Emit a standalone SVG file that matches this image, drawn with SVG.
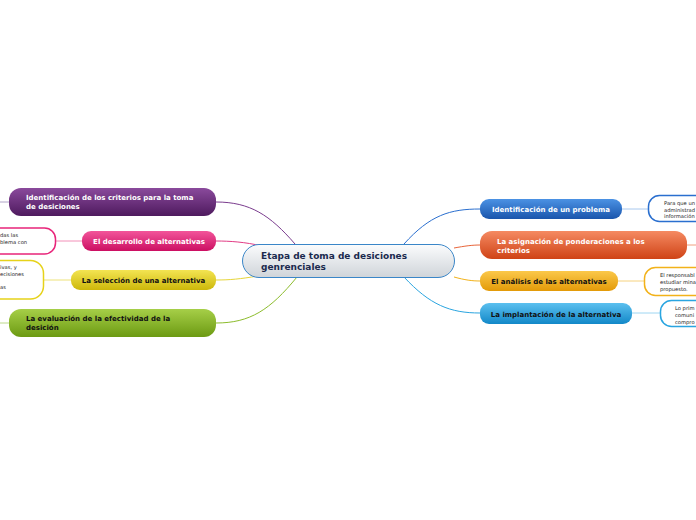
<svg xmlns="http://www.w3.org/2000/svg" width="696" height="520" viewBox="0 0 696 520">
<defs>
<linearGradient id="gC" x1="0" y1="0" x2="0" y2="1"><stop offset="0" stop-color="#fbfcfd"/><stop offset="1" stop-color="#cfd4d9"/></linearGradient>
<linearGradient id="gPu" x1="0" y1="0" x2="0" y2="1"><stop offset="0" stop-color="#8a4a9c"/><stop offset="1" stop-color="#4e1a5e"/></linearGradient>
<linearGradient id="gPk" x1="0" y1="0" x2="0" y2="1"><stop offset="0" stop-color="#f2559a"/><stop offset="1" stop-color="#cc0f62"/></linearGradient>
<linearGradient id="gYe" x1="0" y1="0" x2="0" y2="1"><stop offset="0" stop-color="#f3e452"/><stop offset="1" stop-color="#cdb80a"/></linearGradient>
<linearGradient id="gGr" x1="0" y1="0" x2="0" y2="1"><stop offset="0" stop-color="#a6cf48"/><stop offset="1" stop-color="#6c9a12"/></linearGradient>
<linearGradient id="gBl" x1="0" y1="0" x2="0" y2="1"><stop offset="0" stop-color="#4b92e4"/><stop offset="1" stop-color="#1a55ac"/></linearGradient>
<linearGradient id="gOr" x1="0" y1="0" x2="0" y2="1"><stop offset="0" stop-color="#f58a62"/><stop offset="1" stop-color="#cf4316"/></linearGradient>
<linearGradient id="gAm" x1="0" y1="0" x2="0" y2="1"><stop offset="0" stop-color="#fbc84a"/><stop offset="1" stop-color="#e39a08"/></linearGradient>
<linearGradient id="gLb" x1="0" y1="0" x2="0" y2="1"><stop offset="0" stop-color="#5cc0ef"/><stop offset="1" stop-color="#1288c8"/></linearGradient>
</defs>
<style>
text{font-family:"DejaVu Sans","Verdana",sans-serif;}
.m{font-size:7px;font-weight:bold;}
.w{fill:#ffffff;}
.k{fill:#111111;}
.c{font-size:9px;font-weight:bold;fill:#1b2a4e;}
.s{font-size:5.2px;fill:#222222;}
.ln{fill:none;stroke-width:1;}
.tn{fill:#ffffff;stroke-width:1.5;}
</style>
<rect width="696" height="520" fill="#ffffff"/>
<g id="connectors">
<path class="ln" stroke="#7a3c8e" d="M295,244 C270,215 250,202 216,202"/>
<path class="ln" stroke="#e23c85" d="M262,246 C245,242 230,241 216,241"/>
<path class="ln" stroke="#e6d53a" d="M258,276 C240,279 230,280 216,280"/>
<path class="ln" stroke="#8cbc2c" d="M297,277 C270,310 250,323 216,323"/>
<path class="ln" stroke="#2a6fcf" d="M404,244 C430,215 450,209 480,209"/>
<path class="ln" stroke="#e8653a" d="M454,248 C465,246 472,245 480,245"/>
<path class="ln" stroke="#f2b21a" d="M454,277 C465,280 472,281 480,281"/>
<path class="ln" stroke="#2aa5e0" d="M404,277 C430,305 450,313 480,313"/>
<path class="ln" stroke="#b0a4c8" d="M0,202 L9,202"/>
<path class="ln" stroke="#f290b8" d="M56,241 L82,241"/>
<path class="ln" stroke="#ede27a" d="M44,280 L71,280"/>
<path class="ln" stroke="#bcd98a" d="M0,323 L9,323"/>
<path class="ln" stroke="#a8c8ee" d="M622,209 L648,209"/>
<path class="ln" stroke="#f0a080" d="M687,245 L696,245"/>
<path class="ln" stroke="#f6d27e" d="M618,281 L644,281"/>
<path class="ln" stroke="#9ed6f2" d="M632,313 L660,313"/>
</g>
<g id="central">
<rect x="242.5" y="244.5" width="212" height="33" rx="16.5" fill="url(#gC)" stroke="#3a86c8" stroke-width="1"/>
<text class="c" x="261" y="259">Etapa de toma de desiciones</text>
<text class="c" x="261" y="270">genrenciales</text>
</g>
<g id="n-criterios">
<rect x="9" y="188" width="207" height="28" rx="12" fill="url(#gPu)"/>
<text class="m w" x="26" y="200">Identificación de los criterios para la toma</text>
<text class="m w" x="26" y="209">de desiciones</text>
</g>
<g id="n-desarrollo">
<rect x="82" y="231" width="134" height="20" rx="9" fill="url(#gPk)"/>
<text class="m w" x="149" y="244" text-anchor="middle">El desarrollo de alternativas</text>
</g>
<g id="n-seleccion">
<rect x="71" y="270" width="145" height="20" rx="9" fill="url(#gYe)"/>
<text class="m k" x="143.5" y="283" text-anchor="middle">La selección de una alternativa</text>
</g>
<g id="n-evaluacion">
<rect x="9" y="309" width="207" height="28" rx="12" fill="url(#gGr)"/>
<text class="m k" x="26" y="321">La evaluación de la efectividad de la</text>
<text class="m k" x="26" y="330">desición</text>
</g>
<g id="t-desarrollo">
<rect class="tn" x="-20" y="228" width="75.5" height="26" rx="11" stroke="#e8257a"/>
<text class="s" x="0" y="237">das las</text>
<text class="s" x="0" y="244">blema con</text>
</g>
<g id="t-seleccion">
<rect class="tn" x="-20" y="260.5" width="63.5" height="38.5" rx="13" stroke="#e6d21a"/>
<text class="s" x="0" y="269">ivas, y</text>
<text class="s" x="0" y="276">ecisiones</text>
<text class="s" x="0" y="289">as</text>
</g>
<g id="n-problema">
<rect x="480" y="199" width="142" height="20" rx="9" fill="url(#gBl)"/>
<text class="m w" x="551" y="212" text-anchor="middle">Identificación de un problema</text>
</g>
<g id="n-ponderaciones">
<rect x="480" y="231" width="207" height="28" rx="12" fill="url(#gOr)"/>
<text class="m w" x="497" y="244">La asignación de ponderaciones a los</text>
<text class="m w" x="497" y="253">criterios</text>
</g>
<g id="n-analisis">
<rect x="480" y="271" width="138" height="20" rx="9" fill="url(#gAm)"/>
<text class="m k" x="549" y="284" text-anchor="middle">El análisis de las alternativas</text>
</g>
<g id="n-implantacion">
<rect x="480" y="303" width="152" height="21" rx="9" fill="url(#gLb)"/>
<text class="m k" x="556" y="317" text-anchor="middle">La implantación de la alternativa</text>
</g>
<g id="t-problema">
<rect class="tn" x="648.5" y="195.5" width="70" height="26" rx="11" stroke="#2a6fcf"/>
<text class="s" x="664" y="205">Para que un</text>
<text class="s" x="664" y="211.5">administrad</text>
<text class="s" x="664" y="218">información</text>
</g>
<g id="t-analisis">
<rect class="tn" x="644.5" y="267.5" width="70" height="28" rx="11" stroke="#f2b21a"/>
<text class="s" x="660" y="277">El responsabl</text>
<text class="s" x="660" y="284">estudiar mina</text>
<text class="s" x="660" y="291">propuesto.</text>
</g>
<g id="t-implantacion">
<rect class="tn" x="660.5" y="300.5" width="60" height="26" rx="11" stroke="#2aa5e0"/>
<text class="s" x="675" y="310">Lo prim</text>
<text class="s" x="675" y="317">comuni</text>
<text class="s" x="675" y="324">compro</text>
</g>
</svg>
